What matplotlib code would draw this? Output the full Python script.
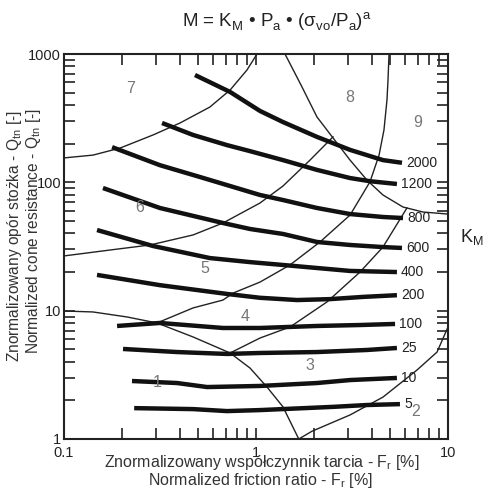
import matplotlib
matplotlib.use("Agg")
import matplotlib.pyplot as plt
from matplotlib.ticker import FixedLocator, FixedFormatter, LogLocator, NullFormatter

plt.rcParams['font.family'] = ['Liberation Sans', 'DejaVu Sans']
plt.rcParams['mathtext.fontset'] = 'custom'
plt.rcParams['mathtext.rm'] = 'Liberation Sans'

# ---- K_M contour lines (Fr [%], Qtn) ----
km_labels = ['2000', '1200', '800', '600', '400', '200', '100', '25', '10', '5']
km_fr = [
    [0.481, 0.733, 1.049, 1.382, 2.078, 3.090, 4.583, 5.76],
    [0.324, 0.470, 0.706, 0.931, 1.382, 2.078, 3.090, 3.924, 5.42],
    [0.178, 0.316, 0.511, 0.733, 1.049, 1.382, 2.078, 3.090, 4.583, 5.83],
    [0.1596, 0.316, 0.673, 0.931, 1.382, 2.078, 3.090, 4.583, 5.76],
    [0.1486, 0.291, 0.575, 0.931, 1.382, 2.078, 3.090, 5.42],
    [0.1486, 0.316, 0.706, 1.049, 1.636, 2.428, 3.608, 5.42],
    [0.189, 0.316, 0.673, 1.049, 2.078, 3.481, 5.30],
    [0.203, 0.388, 0.706, 1.049, 2.078, 3.786, 5.42],
    [0.226, 0.388, 0.556, 1.049, 2.078, 3.090, 5.42],
    [0.232, 0.470, 0.706, 1.049, 2.518, 3.786, 5.62],
]
km_q = [
    [686, 506, 360, 295, 226, 179, 149, 142],
    [290, 234, 195, 175, 149, 125, 108, 102, 97.1],
    [188, 136, 110, 93.6, 79.7, 72.8, 63.1, 56.6, 53.7, 52.7],
    [90.3, 63.1, 48.2, 43.3, 39.6, 34.3, 32.5, 31.3, 30.8],
    [42.5, 31.9, 25.7, 23.9, 22.7, 21.5, 20.4, 20.0],
    [19.0, 15.8, 13.5, 12.6, 12.1, 12.3, 12.8, 13.2],
    [7.60, 8.02, 7.33, 7.33, 7.60, 7.73, 7.88],
    [5.03, 4.76, 4.60, 4.68, 4.76, 4.94, 5.12],
    [2.83, 2.73, 2.54, 2.59, 2.73, 2.88, 2.99],
    [1.74, 1.71, 1.65, 1.68, 1.78, 1.84, 1.87],
]

# ---- soil behaviour type zone boundaries ----
bnd_fr = [
    [0.1, 0.1416, 0.196, 0.291, 0.402, 0.575, 0.733, 0.897, 1.012],
    [0.1, 0.174, 0.281, 0.470, 0.673, 1.049, 1.382, 1.911, 2.518],
    [1.416, 1.715, 2.078, 2.518, 3.090, 3.786, 4.583, 5.83, 7.41, 10],
    [0.305, 0.470, 0.673, 0.759, 1.049, 1.503, 2.154, 3.090, 3.924, 4.375, 4.64, 4.81, 4.87, 4.93],
    [0.733, 1.049, 1.503, 2.344, 3.481, 4.583, 6.11],
    [0.1, 0.1416, 0.213, 0.305, 0.470, 0.733, 0.931, 1.141, 1.382, 1.67],
    [1.67, 1.958, 3.090, 4.583, 6.90, 8.77, 10],
]
bnd_q = [
    [155, 163, 185, 234, 290, 386, 524, 750, 1000],
    [26.7, 29.7, 32.5, 38.9, 48.2, 69.0, 93.6, 149, 226],
    [1000, 574, 323, 222, 149, 104, 79.7, 64.2, 58.7, 56.6],
    [8.02, 10.5, 12.1, 13.7, 16.7, 22.7, 34.3, 55.6, 101, 163, 256, 438, 627, 1000],
    [4.68, 6.12, 7.46, 11.7, 20.0, 31.3, 63.1],
    [9.94, 9.77, 8.93, 8.02, 6.24, 4.68, 3.57, 2.54, 1.78, 1.0],
    [1.0, 1.15, 1.54, 2.12, 3.45, 4.76, 7.46],
]

# ---- zone numbers ----
zone_names = ['1', '2', '3', '4', '5', '6', '7', '8', '9']
zone_fr = [0.305, 6.81, 1.91, 0.877, 0.542, 0.249, 0.221, 3.09, 6.98]
zone_q = [2.78, 1.65, 3.77, 8.93, 21.5, 64.2, 534, 462, 295]

x_ticks = [0.1, 1, 10]
x_tick_labels = ['0.1', '1', '10']
y_ticks = [1, 10, 100, 1000]
y_tick_labels = ['1', '10', '100', '1000']

fig = plt.figure(figsize=(4.88, 4.91), dpi=100)
ax = fig.add_axes([64 / 488, 52 / 491, 384 / 488, 385 / 491])
ax.set_xscale('log')
ax.set_yscale('log')
ax.set_xlim(0.1, 10)
ax.set_ylim(1, 1000)

for fr, q in zip(bnd_fr, bnd_q):
    ax.plot(fr, q, color='#222222', lw=1.0, solid_joinstyle='round')

for lab, fr, q in zip(km_labels, km_fr, km_q):
    ax.plot(fr, q, color='#111111', lw=3.2, solid_capstyle='butt', solid_joinstyle='round')
    ax.annotate(lab, xy=(fr[-1], q[-1]), xytext=(3, 0), textcoords='offset points',
                ha='left', va='center', fontsize=10, color='#222222')

for name, fr, q in zip(zone_names, zone_fr, zone_q):
    ax.text(fr, q, name, ha='center', va='center', fontsize=11.5, color='#777777')

ax.xaxis.set_major_locator(FixedLocator(x_ticks))
ax.xaxis.set_major_formatter(FixedFormatter(x_tick_labels))
ax.yaxis.set_major_locator(FixedLocator(y_ticks))
ax.yaxis.set_major_formatter(FixedFormatter(y_tick_labels))
ax.xaxis.set_minor_locator(LogLocator(base=10, subs=range(2, 10)))
ax.yaxis.set_minor_locator(LogLocator(base=10, subs=range(2, 10)))
ax.xaxis.set_minor_formatter(NullFormatter())
ax.yaxis.set_minor_formatter(NullFormatter())
ax.tick_params(which='both', direction='in', length=8, width=1.2, top=True, right=True,
               color='#222222', labelsize=10.5, labelcolor='#222222')
ax.tick_params(axis='y', pad=2)
ax.tick_params(axis='x', pad=5)
for s in ax.spines.values():
    s.set_linewidth(1.5)
    s.set_color('#222222')

fig.text(277 / 488, 1 - 22 / 491,
         r'M = K$_\mathregular{M}$ • P$_\mathregular{a}$ • (σ$_\mathregular{vo}$/P$_\mathregular{a}$)$^\mathregular{a}$',
         ha='center', va='center', fontsize=13.5, color='#222222')
fig.text(472 / 488, 1 - 237 / 491, r'K$_\mathregular{M}$', ha='center', va='center',
         fontsize=13, color='#222222')

fig.text(15 / 488, 1 - 236 / 491, r'Znormalizowany opór stożka - Q$_\mathregular{tn}$ [-]',
         rotation=90, ha='center', va='center', fontsize=11.2, color='#333333')
fig.text(34 / 488, 1 - 231 / 491, r'Normalized cone resistance - Q$_\mathregular{tn}$ [-]',
         rotation=90, ha='center', va='center', fontsize=11.2, color='#333333')
fig.text(262 / 488, 1 - 462 / 491, r'Znormalizowany współczynnik tarcia - F$_\mathregular{r}$ [%]',
         ha='center', va='center', fontsize=11.5, color='#333333')
fig.text(260 / 488, 1 - 480 / 491, r'Normalized friction ratio - F$_\mathregular{r}$ [%]',
         ha='center', va='center', fontsize=11.5, color='#333333')

fig.savefig('out.png', dpi=100)
